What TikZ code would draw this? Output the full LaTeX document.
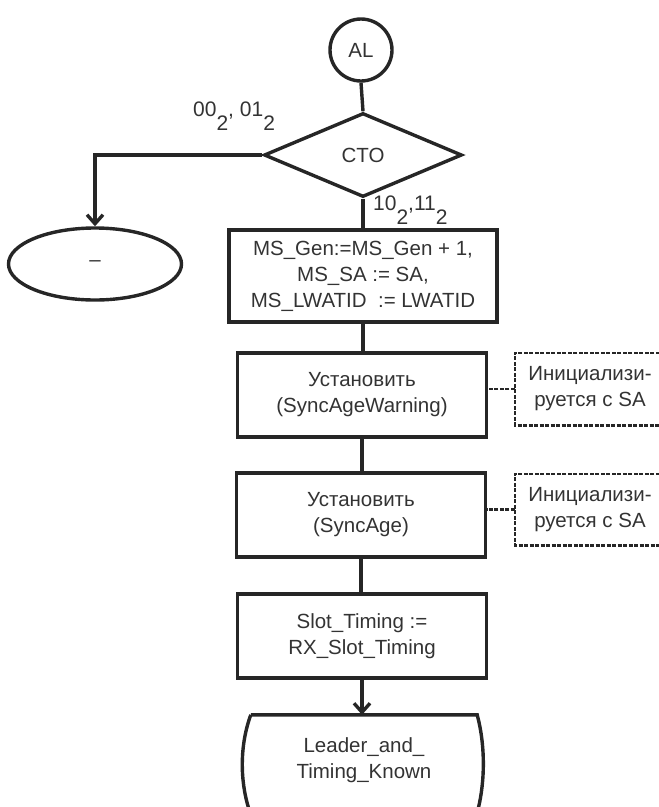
\documentclass[tikz,border=0pt]{standalone}
\usepackage{fontspec}
\setmainfont{Liberation Sans}
\usetikzlibrary{arrows.meta,shapes.geometric}
\tikzset{
  line/.style={line width=3.4pt, draw=black!85},
  box/.style={draw=black!85, line width=3.4pt, rectangle, align=center, inner sep=0pt},
  note/.style={rectangle, align=center, inner sep=0pt, text=black!80},
  dot/.style={line width=2.6pt, draw=black!85, dash pattern=on 4pt off 1.5pt},
  arr/.style={-{Straight Barb[length=9pt,width=16pt]}},
  lbl/.style={inner sep=0pt, text=black!80}
}
\newcommand{\subtwo}{\raisebox{-14pt}{\fontsize{21}{21}\selectfont 2}}
\begin{document}
\begin{tikzpicture}[x=1pt,y=-1pt,font=\fontsize{20.5}{26}\selectfont, every node/.append style={text=black!80}]
\useasboundingbox (0,0) rectangle (659,807);
% nodes
\node[circle, draw=black!85, line width=3.4pt, minimum size=62pt, inner sep=0pt] (al) at (361,50) {AL};
\node[diamond, draw=black!85, line width=3.4pt, minimum width=198pt, minimum height=84pt, inner sep=0pt] (cto) at (363,155) {CTO};
\node[ellipse, draw=black!85, line width=3.4pt, minimum width=173pt, minimum height=72pt, inner sep=0pt] (ell) at (95,264) {–};
\node[box, minimum width=268pt, minimum height=92pt] (ms) at (363,276) {MS\_Gen:=MS\_Gen + 1,\\MS\_SA := SA,\\MS\_LWATID~~:= LWATID};
\node[box, minimum width=249pt, minimum height=84pt] (b2) at (362,395) {Установить\\(SyncAgeWarning)};
\node[box, minimum width=249pt, minimum height=84pt] (b3) at (361,515) {Установить\\(SyncAge)};
\node[box, minimum width=249pt, minimum height=84pt] (b4) at (362,636) {Slot\_Timing :=\\RX\_Slot\_Timing};
\node[note, minimum width=150pt, minimum height=72pt] (n1) at (590,389) {Инициализи-\\руется с SA};
\node[note, minimum width=150pt, minimum height=71pt] (n2) at (590,509.5) {Инициализи-\\руется с SA};
\node[note, minimum width=226pt, minimum height=90pt] (term) at (364,760) {Leader\_and\_\\Timing\_Known};
% labels
\node[lbl, anchor=base west] (l1) at (193,116) {\fontsize{21}{22}\selectfont 00\subtwo, 01\subtwo};
\node[lbl, anchor=base west] (l2) at (373,210) {\fontsize{21}{22}\selectfont 10\subtwo,11\subtwo};
% terminal outline
\draw[line] (term.north west) -- (term.north east)
  .. controls ([xshift=8pt,yshift=-30pt]term.north east) and ([xshift=8pt,yshift=-65pt]term.north east) .. ([xshift=1pt,yshift=-94pt]term.north east);
\draw[line] (term.north west)
  .. controls ([xshift=-11pt,yshift=-30pt]term.north west) and ([xshift=-11pt,yshift=-65pt]term.north west) .. ([xshift=-2pt,yshift=-94pt]term.north west);
% note outlines
\draw[dot] (n1.north east) -- (n1.north west) -- (n1.south west) -- (n1.south east);
\draw[dot] (n2.north east) -- (n2.north west) -- (n2.south west) -- (n2.south east);
% connectors
\draw[line] (al.south) -- (cto.north);
\draw[line] (cto.south) -- (ms.north);
\draw[line, arr] (cto.west) -| (ell.north);
\draw[line] (ms.south) -- (ms.south |- b2.north);
\draw[line] (b2.south) -- (b2.south |- b3.north);
\draw[line] (b3.south) -- (b3.south |- b4.north);
\draw[line, arr] (b4.south) -- (b4.south |- term.north);
\draw[dot] (n1.west) -- (n1.west -| b2.east);
\draw[dot] (n2.west) -- (n2.west -| b3.east);
\end{tikzpicture}
\end{document}
